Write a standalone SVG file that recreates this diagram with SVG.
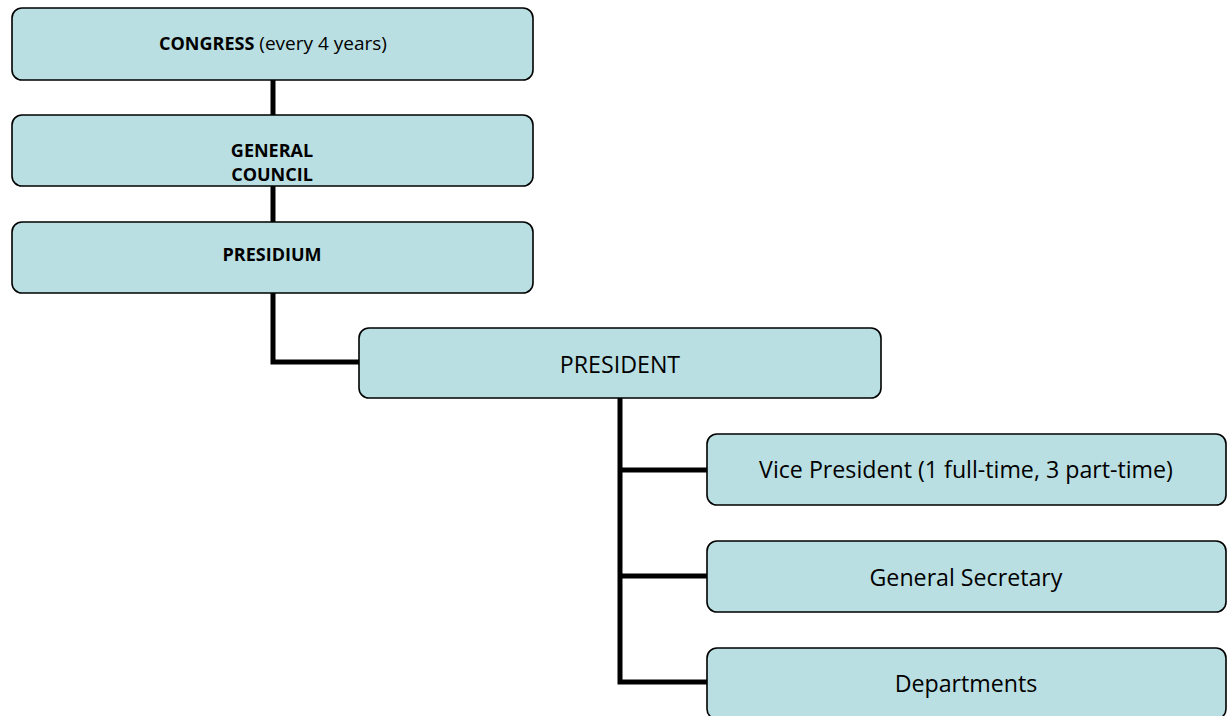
<svg xmlns="http://www.w3.org/2000/svg" width="1231" height="716" viewBox="0 0 1231 716">
<style>
.box{fill:#b9dfe2;stroke:#000;stroke-width:1.6}
.lbl{font-family:"Open Sans","Liberation Sans",sans-serif;fill:#000;text-anchor:middle}
.b{font-size:18px;font-weight:bold}
.r{font-size:23.2px}
.conn{fill:none;stroke:#000;stroke-width:5}
</style>
<rect width="1231" height="716" fill="#fff"/>
<g id="connectors">
<path class="conn" d="M273 80V115"/>
<path class="conn" d="M273 186V222"/>
<path class="conn" d="M273 293V362H359"/>
<path class="conn" d="M620 398V682H707M620 470H707M620 576H707"/>
</g>
<g id="congress">
<rect class="box" x="12" y="8" width="521" height="72" rx="10"/>
<text class="lbl" x="273" y="50"><tspan class="b">CONGRESS</tspan><tspan font-size="19px"> (every 4 years)</tspan></text>
</g>
<g id="general-council">
<rect class="box" x="12" y="115" width="521" height="71" rx="10"/>
<text class="lbl b" x="272" y="157">GENERAL</text>
<text class="lbl b" x="272" y="181">COUNCIL</text>
</g>
<g id="presidium">
<rect class="box" x="12" y="222" width="521" height="71" rx="10"/>
<text class="lbl b" x="272" y="261">PRESIDIUM</text>
</g>
<g id="president">
<rect class="box" x="359" y="328" width="522" height="70" rx="10"/>
<text class="lbl r" x="620" y="373">PRESIDENT</text>
</g>
<g id="vice-president">
<rect class="box" x="707" y="434" width="519" height="71" rx="10"/>
<text class="lbl r" x="966" y="478">Vice President (1 full-time, 3 part-time)</text>
</g>
<g id="general-secretary">
<rect class="box" x="707" y="541" width="519" height="71" rx="10"/>
<text class="lbl r" x="966" y="586">General Secretary</text>
</g>
<g id="departments">
<rect class="box" x="707" y="648" width="519" height="71" rx="10"/>
<text class="lbl r" x="966" y="692">Departments</text>
</g>
</svg>
